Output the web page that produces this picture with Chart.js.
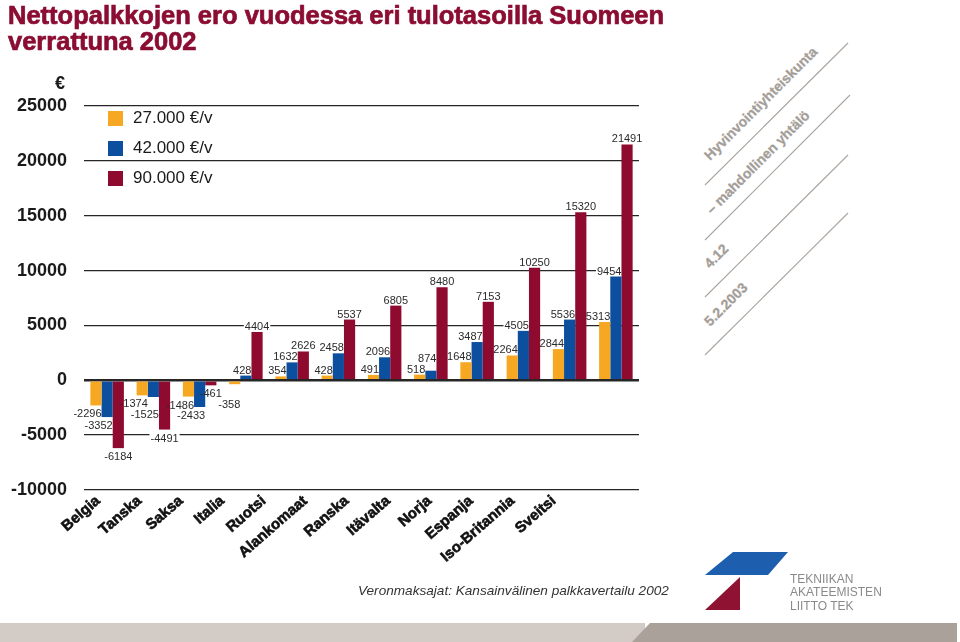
<!DOCTYPE html>
<html>
<head>
<meta charset="utf-8">
<script src="https://cdn.jsdelivr.net/npm/chart.js"></script>
<style>
  body { margin: 0; background: #fff; }
  #wrap { position: relative; width: 960px; height: 642px; overflow: hidden; font-family: 'Liberation Sans', Arial, sans-serif; }
  #wrap canvas { position: absolute; left: 0; top: 0; }
  .abs { position: absolute; white-space: nowrap; }
  #title { left: 8px; top: 2px; font-size: 25.5px; line-height: 26px; font-weight: bold; color: #8b0d32; -webkit-text-stroke: 0.7px #8b0d32; }
  #euro { left: 55px; top: 73px; font-size: 18px; font-weight: bold; color: #1a1a1a; }
  #legend { left: 108px; top: 106px; }
  .lg-row { position: absolute; left: 0; height: 20px; }
  .lg-box { position: absolute; left: 0; width: 15px; height: 15px; }
  .lg-txt { position: absolute; left: 25px; font-size: 17px; color: #1a1a1a; line-height: 20px; }
  #source { left: 358px; top: 583px; font-size: 13.6px; font-style: italic; color: #333; }
  #tek { left: 790px; top: 573px; font-size: 12px; line-height: 13.3px; color: #8a8a8a; }
</style>
</head>
<body>
<div id="wrap">
  <svg class="abs" width="960" height="642" style="left:0;top:0">
    <rect x="0" y="623" width="645" height="19" fill="#d3cbc6"/>
    <polygon points="632,642 650,623 957,623 957,642" fill="#aaa19b"/>
    <g stroke="#aaa49f" stroke-width="1.1">
      <line x1="705" y1="185" x2="848" y2="43"/>
      <line x1="705" y1="240" x2="850" y2="95"/>
      <line x1="705" y1="297" x2="848" y2="155"/>
      <line x1="705" y1="355" x2="848" y2="213"/>
    </g>
    <g fill="#a49e99" stroke="#a49e99" stroke-width="0.3" font-family="Liberation Sans, Arial, sans-serif" font-size="14" font-weight="bold">
      <text transform="translate(710,161) rotate(-45)">Hyvinvointiyhteiskunta</text>
      <text transform="translate(712,215) rotate(-45)">– mahdollinen yhtälö</text>
      <text transform="translate(710,269) rotate(-45)">4.12</text>
      <text transform="translate(710,327) rotate(-45)">5.2.2003</text>
    </g>
    <polygon points="733,552 788,552 768,575 705,575" fill="#1d5fae"/>
    <polygon points="740,577 740,610 705,610" fill="#8f1233"/>
  </svg>
  <canvas id="chart" width="960" height="642"></canvas>
  <div id="title" class="abs">Nettopalkkojen ero vuodessa eri tulotasoilla Suomeen<br>verrattuna 2002</div>
  <div id="euro" class="abs">€</div>
  <div id="legend" class="abs"></div>
  <div id="source" class="abs">Veronmaksajat: Kansainvälinen palkkavertailu 2002</div>
  <div id="tek" class="abs">TEKNIIKAN<br>AKATEEMISTEN<br>LIITTO TEK</div>
</div>

<script>
// --- data ---
const maat = ['Belgia', 'Tanska', 'Saksa', 'Italia', 'Ruotsi', 'Alankomaat', 'Ranska',
  'Itävalta', 'Norja', 'Espanja', 'Iso-Britannia', 'Sveitsi'];
const sarjat = ['27.000 €/v', '42.000 €/v', '90.000 €/v'];
const tulo27 = [-2296, -1374, -1486, -358, 354, 428, 491, 518, 1648, 2264, 2844, 5313];
const tulo42 = [-3352, -1525, -2433, 428, 1632, 2458, 2096, 874, 3487, 4505, 5536, 9454];
const tulo90 = [-6184, -4491, -461, 4404, 2626, 5537, 6805, 8480, 7153, 10250, 15320, 21491];
const yMin = -10000;
const yMax = 25000;
const yStep = 5000;

const varit = ['#f7a823', '#0d4f9f', '#8e0a2f'];
const FONT = "'Liberation Sans', Arial, sans-serif";

// arvot pylväiden päihin, valkoinen tausta katkaisee ruudukon
function boxesOverlap(a, b) {
  return a.x1 < b.x2 && a.x2 > b.x1 && a.y1 < b.y2 && a.y2 > b.y1;
}

const arvoLabels = {
  id: 'arvoLabels',
  beforeDatasetsDraw(chart) {
    const ctx = chart.ctx;
    ctx.save();
    ctx.font = `11px ${FONT}`;
    const placed = [];
    const h = 10;
    chart.data.labels.forEach((_, i) => {
      chart.data.datasets.forEach((ds, d) => {
        const bar = chart.getDatasetMeta(d).data[i];
        const v = ds.data[i];
        const txt = String(v);
        const w = ctx.measureText(txt).width;
        let x1 = d === 2 ? bar.x - w / 2 : bar.x + bar.width / 2 - w;
        const box = { x1, x2: x1 + w, txt, pos: v >= 0 };
        if (v >= 0) { box.y2 = bar.y - 1; box.y1 = box.y2 - h; }
        else { box.y1 = bar.y + 3; box.y2 = box.y1 + h; }
        let guard = 0;
        let hit = placed.find(p => boxesOverlap(p, box));
        while (hit && guard++ < 10) {
          if (box.pos) { box.y2 = hit.y1 - 1; box.y1 = box.y2 - h; }
          else { box.y1 = hit.y2 + 1; box.y2 = box.y1 + h; }
          hit = placed.find(p => boxesOverlap(p, box));
        }
        placed.push(box);
      });
    });
    ctx.fillStyle = '#fff';
    placed.forEach(b => ctx.fillRect(b.x1 - 1, b.y1 - 1, b.x2 - b.x1 + 2, b.y2 - b.y1 + 2));
    ctx.restore();
    chart._arvoBoxes = placed;
  },
  afterDatasetsDraw(chart) {
    const ctx = chart.ctx;
    ctx.save();
    ctx.font = `11px ${FONT}`;
    ctx.fillStyle = '#2b2b2b';
    ctx.textAlign = 'left';
    ctx.textBaseline = 'alphabetic';
    (chart._arvoBoxes || []).forEach(b => ctx.fillText(b.txt, b.x1, b.y2 - 1));
    ctx.restore();
  }
};

// maiden nimet vinossa x-akselin alla (hieman tiivistettynä kuten alkuperäisessä)
const maaLabels = {
  id: 'maaLabels',
  afterDraw(chart) {
    const ctx = chart.ctx;
    const xs = chart.scales.x;
    const p0 = xs.getPixelForValue(0);
    ctx.save();
    ctx.font = `bold 15px ${FONT}`;
    ctx.fillStyle = '#111';
    ctx.strokeStyle = '#111';
    ctx.lineWidth = 0.6;
    ctx.textAlign = 'right';
    ctx.textBaseline = 'middle';
    chart.data.labels.forEach((lab, i) => {
      const px = xs.getPixelForValue(i);
      const ax = p0 - 9 + (px - p0) * 0.896;
      const ay = chart.chartArea.bottom + 9;
      ctx.save();
      ctx.translate(ax, ay);
      ctx.rotate(-41 * Math.PI / 180);
      ctx.fillText(lab, 0, 0);
      ctx.strokeText(lab, 0, 0);
      ctx.restore();
    });
    ctx.restore();
  }
};

const chart = new Chart(document.getElementById('chart').getContext('2d'), {
  type: 'bar',
  data: {
    labels: maat,
    datasets: [
      { label: sarjat[0], data: tulo27, backgroundColor: varit[0] },
      { label: sarjat[1], data: tulo42, backgroundColor: varit[1] },
      { label: sarjat[2], data: tulo90, backgroundColor: varit[2] }
    ]
  },
  options: {
    responsive: false,
    animation: false,
    datasets: { bar: { categoryPercentage: 0.725, barPercentage: 1, borderWidth: 0 } },
    layout: { padding: { top: 106, bottom: 152, left: 0, right: 321 } },
    plugins: {
      legend: { display: false },
      tooltip: { enabled: false }
    },
    scales: {
      x: {
        grid: { display: false },
        border: { display: false },
        ticks: { display: false },
        afterFit: (s) => { s.height = 0; }
      },
      y: {
        min: yMin,
        max: yMax,
        afterFit: (s) => { s.width = 84; },
        border: { display: false },
        grid: {
          drawTicks: false,
          color: '#262626',
          lineWidth: (c) => (c.tick && c.tick.value === 0 ? 2.6 : 1.3)
        },
        ticks: {
          stepSize: yStep,
          padding: 17,
          color: '#1a1a1a',
          font: { family: FONT, size: 18, weight: 'bold' },
          callback: (v) => String(v)
        }
      }
    }
  },
  plugins: [arvoLabels, maaLabels]
});

// selite HTML:nä datasettien tiedoista
const legend = document.getElementById('legend');
chart.data.datasets.forEach((ds, i) => {
  const row = document.createElement('div');
  row.className = 'lg-row';
  row.style.top = (i * 30 + 2) + 'px';
  row.innerHTML = `<div class="lg-box" style="top:3px;background:${ds.backgroundColor}"></div>` +
    `<div class="lg-txt">${ds.label}</div>`;
  legend.appendChild(row);
});
</script>
</body>
</html>
